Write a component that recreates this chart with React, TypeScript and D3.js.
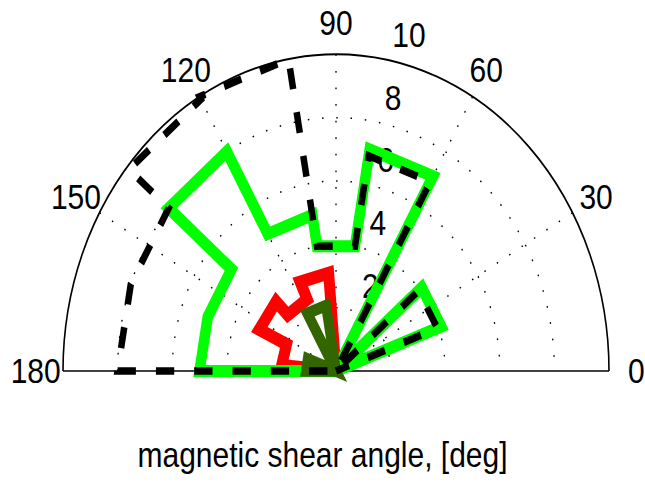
import React from "react";
import * as d3 from "d3";

// Histogram bins (degrees) and counts for each distribution
const binEdges = [0, 20, 40, 60, 80, 100, 120, 140, 160, 180];
const greenCounts = [0, 4.1, 0, 7.1, 4.0, 5.0, 8.0, 5.0, 5.0];
const blackCounts = [0, 3.95, 0, 6.9, 4.0, 10.0, 9.9, 8.0, 8.0];
const oliveCounts = [0, 0, 0, 0, 0, 2.1, 0, 0, 1.1];
// the red distribution is binned on edges offset by 5 degrees
const redEdges = [95, 115, 135, 155, 175];
const redCounts = [3.1, 2.5, 3.1, 2.0];

const angleTicks = [0, 30, 60, 90, 120, 150, 180];
const spokeAngles = [30, 60, 90, 120, 150];
const ringTicks = [2, 4, 6, 8, 10];
const gridRings = [2, 4, 6, 8];
const rMax = 10;
const xLabel = "magnetic shear angle, [deg]";

const W = 645;
const H = 483;
const STRETCH = 1.16;
const CX = 336;
const CY = 371 / STRETCH;
const FONT = "'Liberation Sans', Arial, Helvetica, sans-serif";

const rScale = d3.scaleLinear().domain([0, rMax]).range([0, 273]);
const toRad = (deg: number) => (deg * Math.PI) / 180;
const pt = (deg: number, v: number): [number, number] => [
  CX + rScale(v) * Math.cos(toRad(deg)),
  CY - rScale(v) * Math.sin(toRad(deg)),
];

// polar stair outline: origin -> each bin as a chord at its count -> origin
function stairPoints(edges: number[], counts: number[]): [number, number][] {
  const pts: [number, number][] = [pt(edges[0], 0)];
  counts.forEach((c, i) => {
    pts.push(pt(edges[i], c));
    pts.push(pt(edges[i + 1], c));
  });
  pts.push(pt(edges[edges.length - 1], 0));
  return pts;
}

const line = d3.line<[number, number]>().curve(d3.curveLinear);

function segLength(pts: [number, number][], upTo: number) {
  let L = 0;
  for (let i = 1; i <= upTo; i++) {
    L += Math.hypot(pts[i][0] - pts[i - 1][0], pts[i][1] - pts[i - 1][1]);
  }
  return L;
}

function semicircle(rv: number) {
  const p = d3.path();
  p.arc(CX, CY, rScale(rv), Math.PI, 2 * Math.PI);
  return p.toString();
}

export default function App() {
  const greenPts = stairPoints(binEdges, greenCounts);
  const blackPts = stairPoints(binEdges, blackCounts);
  const redPts = stairPoints(redEdges, redCounts);
  const olivePts = stairPoints(binEdges, oliveCounts);

  const dash = [18.3, 20];
  const period = dash[0] + dash[1];
  const lenBeforeLast = segLength(blackPts, blackPts.length - 2);
  const dashOffset = (period - (lenBeforeLast % period)) % period;

  const dotted = "1.5 12.8";
  const c82 = Math.cos(toRad(82));
  const s82 = Math.sin(toRad(82));

  return (
    <svg
      width={W}
      height={H}
      viewBox={`0 0 ${W} ${H}`}
      style={{ position: "fixed", left: 0, top: 0, background: "#fff" }}
    >
      <rect x={0} y={0} width={W} height={H} fill="#fff" />
      <g transform={`scale(1, ${STRETCH})`}>
        {/* dotted range rings */}
        {gridRings.map((rv) => (
          <path
            key={`ring-${rv}`}
            d={semicircle(rv)}
            fill="none"
            stroke="#000"
            strokeWidth={1.3}
            strokeDasharray={dotted}
          />
        ))}
        {/* dotted spokes */}
        {spokeAngles.map((a) => {
          const [x0, y0] = pt(a, 0);
          const [x1, y1] = pt(a, rMax);
          return (
            <line
              key={`spoke-${a}`}
              x1={x1}
              y1={y1}
              x2={x0}
              y2={y0}
              stroke="#000"
              strokeWidth={1.3}
              strokeDasharray={dotted}
            />
          );
        })}
        {/* outer boundary */}
        <path d={semicircle(rMax)} fill="none" stroke="#000" strokeWidth={1.6} />
        <line
          x1={pt(180, rMax)[0]}
          y1={CY}
          x2={pt(0, rMax)[0]}
          y2={CY}
          stroke="#000"
          strokeWidth={1.4}
        />

        {/* angle labels */}
        {angleTicks.map((a) => {
          const [x, y] = pt(a, 11);
          return (
            <text
              key={`ang-${a}`}
              x={x}
              y={y}
              dy="0.358em"
              textAnchor="middle"
              fontFamily={FONT}
              fontSize={30}
              fill="#000"
            >
              {a}
            </text>
          );
        })}
        {/* radius labels along 82 degrees */}
        {ringTicks.map((rv) => {
          const rr = rScale(rv + 0.1);
          return (
            <text
              key={`rad-${rv}`}
              x={CX + rr * c82 + 18}
              y={CY - rr * s82 - 6.3}
              textAnchor="start"
              fontFamily={FONT}
              fontSize={30}
              fill="#000"
            >
              {rv}
            </text>
          );
        })}

        {/* distributions */}
        <path
          d={line(redPts) || ""}
          fill="none"
          stroke="#ff0000"
          strokeWidth={11}
          strokeLinejoin="miter"
          strokeMiterlimit={4}
        />
        <path
          d={line(greenPts) || ""}
          fill="none"
          stroke="#00ff00"
          strokeWidth={10.5}
          strokeLinejoin="miter"
          strokeMiterlimit={4}
        />
        <path
          d={line(olivePts) || ""}
          fill="none"
          stroke="#336600"
          strokeWidth={10}
          strokeLinejoin="miter"
          strokeMiterlimit={4}
        />
        <path
          d={line(blackPts) || ""}
          fill="none"
          stroke="#000"
          strokeWidth={6.5}
          strokeDasharray={dash.join(" ")}
          strokeDashoffset={dashOffset}
          strokeLinejoin="miter"
          strokeMiterlimit={4}
        />

        <text
          x={322.5}
          y={466.7 / STRETCH}
          textAnchor="middle"
          fontFamily={FONT}
          fontSize={30}
          fill="#000"
        >
          {xLabel}
        </text>
      </g>
    </svg>
  );
}
